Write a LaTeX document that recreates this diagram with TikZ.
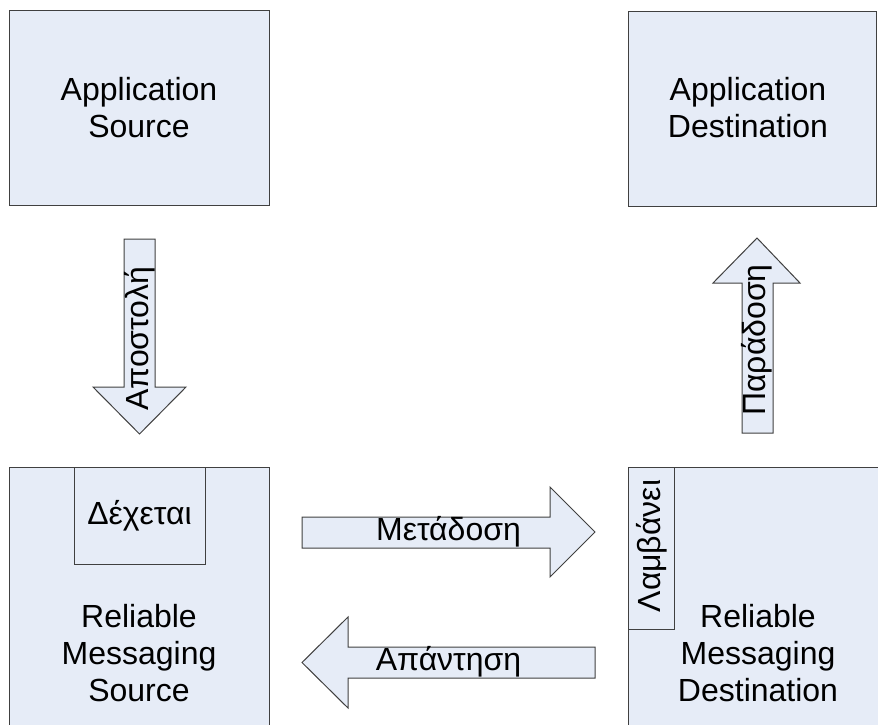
\documentclass[tikz,border=0pt]{standalone}
\usepackage{fontspec}
\setmainfont{Liberation Sans}
\definecolor{fondbleu}{HTML}{E6ECF7}
\definecolor{bord}{HTML}{404040}
\tikzset{
    boite/.style={draw=bord, fill=fondbleu, line width=1pt, inner sep=0pt},
    fleche/.style={draw=bord, fill=fondbleu, line width=1pt, line join=miter},
    texte/.style={align=center, inner sep=0pt}
}
\begin{document}
\begin{tikzpicture}[x=1pt, y=-1pt, font=\fontsize{32}{37}\selectfont]
    % Cadre de l'image
    \useasboundingbox (0,0) rectangle (878,724);
    \clip (0,0) rectangle (878,724);

    % Applications en haut
    \node[boite, texte, minimum width=260pt, minimum height=195pt] (appsrc) at (139,108) {Application\\Source};
    \node[boite, minimum width=248pt, minimum height=195pt] (appdst) at (752,108.5) {};
    \node[texte] (appdsttxt) at (748,108) {Application\\Destination};

    % Reliable Messaging en bas (coupes par le bord)
    \node[boite, minimum width=260pt, minimum height=293pt] (rmsrc) at (139,613.5) {};
    \node[boite, minimum width=260pt, minimum height=293pt] (rmdst) at (758,613.5) {};
    \node[boite, texte, minimum width=131pt, minimum height=97pt] (dexetai) at (139.5,515.5) {Δέχεται};
    \node[boite, minimum width=46pt, minimum height=162pt] (lamvanei) at (651,548) {};
    \node[texte, rotate=90] (lamvaneitxt) at (652,546) {Λαμβάνει};
    \node[texte, anchor=north] (rmsrctxt) at (139,604) {Reliable\\Messaging\\Source};
    \node[texte, anchor=north] (rmdsttxt) at (758,604) {Reliable\\Messaging\\Destination};

    % Fleches
    \draw[fleche] (124,239) -- (155,239) -- (155,387) -- (186,387) -- (139.5,434)
        -- (93,387) -- (124,387) -- cycle;
    \draw[fleche] (742,433) -- (773,433) -- (773,283) -- (800,283) -- (757,238)
        -- (713,283) -- (742,283) -- cycle;
    \draw[fleche] (302,517) -- (550,517) -- (550,487) -- (595,532) -- (550,577)
        -- (550,548) -- (302,548) -- cycle;
    \draw[fleche] (595,647) -- (348,647) -- (348,617) -- (302,662.5) -- (348,708)
        -- (348,678) -- (595,678) -- cycle;

    % Textes des fleches
    \node[texte, rotate=90] (envoi) at (140,339) {Αποστολή};
    \node[texte, rotate=90] (remise) at (757,340) {Παράδοση};
    \node[texte] (transmission) at (448.5,532) {Μετάδοση};
    \node[texte] (reponse) at (448.5,662) {Απάντηση};
\end{tikzpicture}
\end{document}
